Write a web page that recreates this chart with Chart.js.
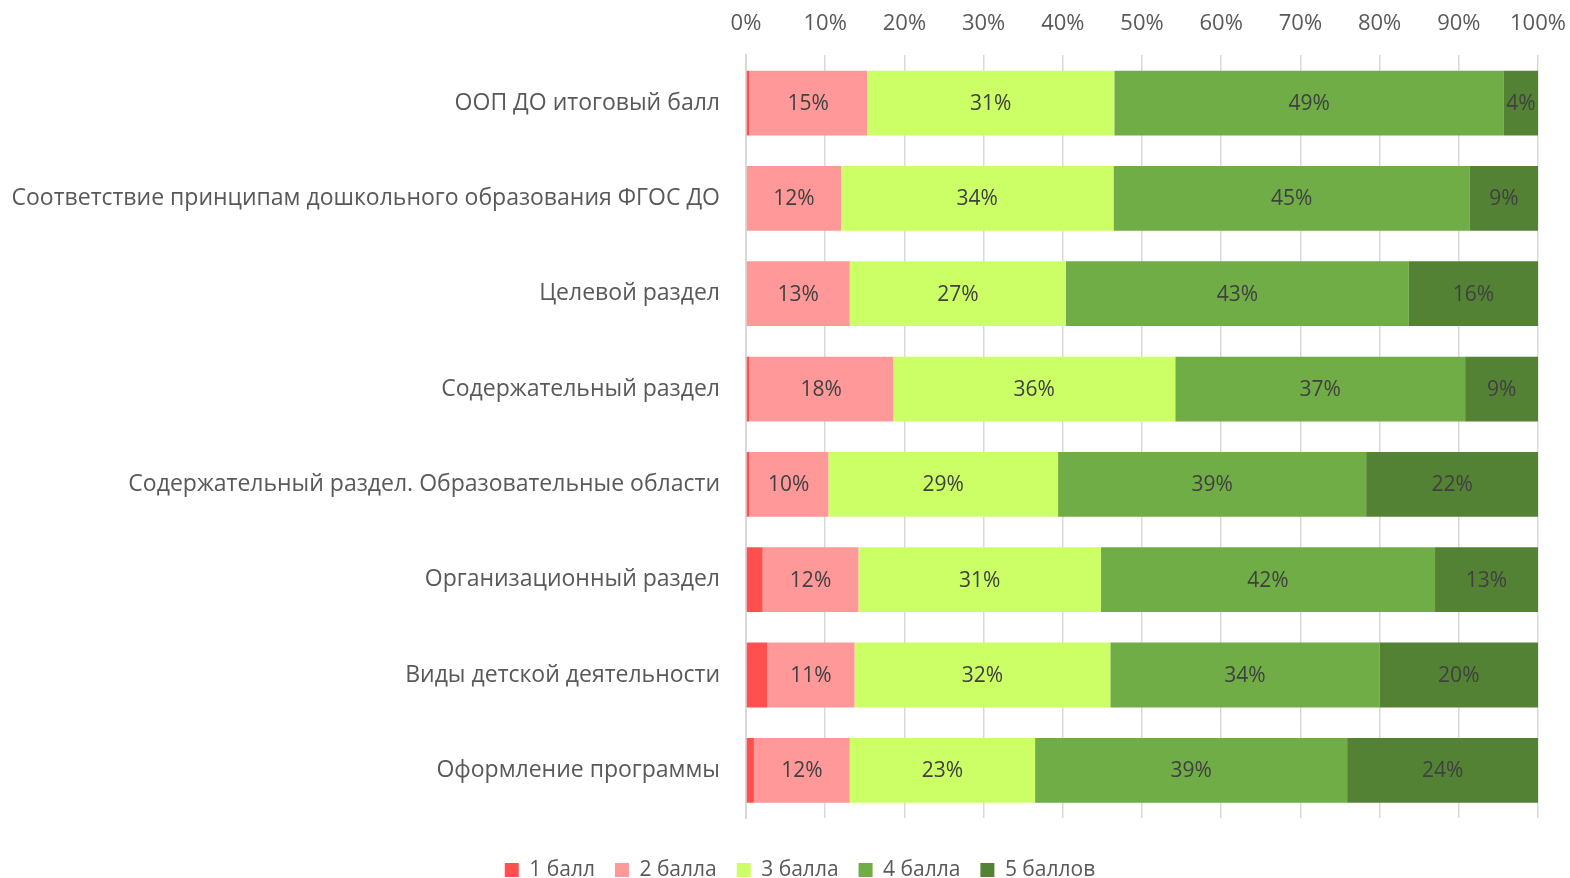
<!DOCTYPE html>
<html><head><meta charset="utf-8">
<script src="https://cdn.jsdelivr.net/npm/chart.js@4.4.1/dist/chart.umd.min.js"></script>
<style>html,body{margin:0;padding:0;background:#fff}#wrap{width:1570px;height:878px}</style>
</head><body><div id="wrap"><canvas id="c" width="1570" height="878"></canvas></div>
<script>
const categories = [
  "ООП ДО итоговый балл",
  "Соответствие принципам дошкольного образования ФГОС ДО",
  "Целевой раздел",
  "Содержательный раздел",
  "Содержательный раздел. Образовательные области",
  "Организационный раздел",
  "Виды детской деятельности",
  "Оформление программы"
];
const seriesNames = ["1 балл", "2 балла", "3 балла", "4 балла", "5 баллов"];
const score1 = [0.4, 0, 0, 0.4, 0.4, 2.1, 2.7, 1.0];
const score2 = [14.9, 12.0, 13.1, 18.2, 10.0, 12.1, 11.0, 12.1];
const score3 = [31.2, 34.4, 27.3, 35.6, 29.0, 30.6, 32.3, 23.4];
const score4 = [49.2, 45.0, 43.3, 36.6, 38.9, 42.2, 34.0, 39.4];
const score5 = [4.3, 8.6, 16.3, 9.2, 21.7, 13.0, 20.0, 24.1];
const tickValues = [0,10,20,30,40,50,60,70,80,90,100];
const colors = ["#FF5050", "#FF9999", "#CCFF66", "#70AD47", "#548235"];

const FONT = "'Open Sans', 'DejaVu Sans', sans-serif";

const labelPlugin = {
  id: 'barLabels',
  afterDatasetsDraw(chart) {
    const ctx = chart.ctx;
    ctx.save();
    ctx.font = "21px " + FONT;
    ctx.fillStyle = "#404040";
    ctx.textAlign = "center";
    ctx.textBaseline = "middle";
    chart.data.datasets.forEach((ds, di) => {
      if (di === 0) return;
      const meta = chart.getDatasetMeta(di);
      meta.data.forEach((el, i) => {
        const v = ds.data[i];
        if (!v) return;
        const p = el.getProps(['x','y','base'], true);
        ctx.fillText(Math.round(v) + "%", (p.x + p.base) / 2, p.y + 1);
      });
    });
    ctx.restore();
  }
};

// place the legend row on a fixed line near the bottom edge, centred under the plot
const legendPlace = {
  id: 'legendPlace',
  afterLayout(chart) {
    const L = chart.legend;
    if (!L) return;
    const h = L.height;
    L.top = 865 - h / 2;
    L.bottom = L.top + h;
    L.left += 15;
    L.right += 15;
  }
};

const allSeries = [score1, score2, score3, score4, score5];
new Chart(document.getElementById('c'), {
  type: 'bar',
  data: {
    labels: categories,
    datasets: allSeries.map((d, i) => ({
      label: seriesNames[i],
      data: d,
      backgroundColor: colors[i],
      borderWidth: 0,
      barPercentage: 0.68,
      categoryPercentage: 1.0
    }))
  },
  options: {
    indexAxis: 'y',
    responsive: false,
    animation: false,
    layout: { padding: { left: 0, right: 0, top: -7, bottom: 9 } },
    scales: {
      x: {
        position: 'top',
        stacked: true,
        min: 0, max: 100,
        afterBuildTicks(scale) { scale.ticks = tickValues.map(v => ({ value: v })); },
        afterFit(scale) { scale.paddingRight = 32; },
        ticks: {
          callback: v => v + "%",
          color: "#595959",
          font: { size: 22, family: FONT },
          padding: 18,
          maxRotation: 0
        },
        grid: { color: "#D9D9D9", lineWidth: 1.5, drawTicks: false },
        border: { display: false }
      },
      y: {
        stacked: true,
        afterFit(scale) { scale.width = 746; },
        ticks: {
          color: "#595959",
          font: { size: 23, family: FONT },
          padding: 18
        },
        grid: { display: false },
        border: { color: "#D9D9D9", width: 2 }
      }
    },
    plugins: {
      legend: {
        position: 'bottom',
        labels: {
          color: "#595959",
          font: { size: 21, family: FONT },
          boxWidth: 14, boxHeight: 14,
          padding: 20
        }
      },
      tooltip: { enabled: false }
    }
  },
  plugins: [labelPlugin, legendPlace]
});
</script></body></html>
